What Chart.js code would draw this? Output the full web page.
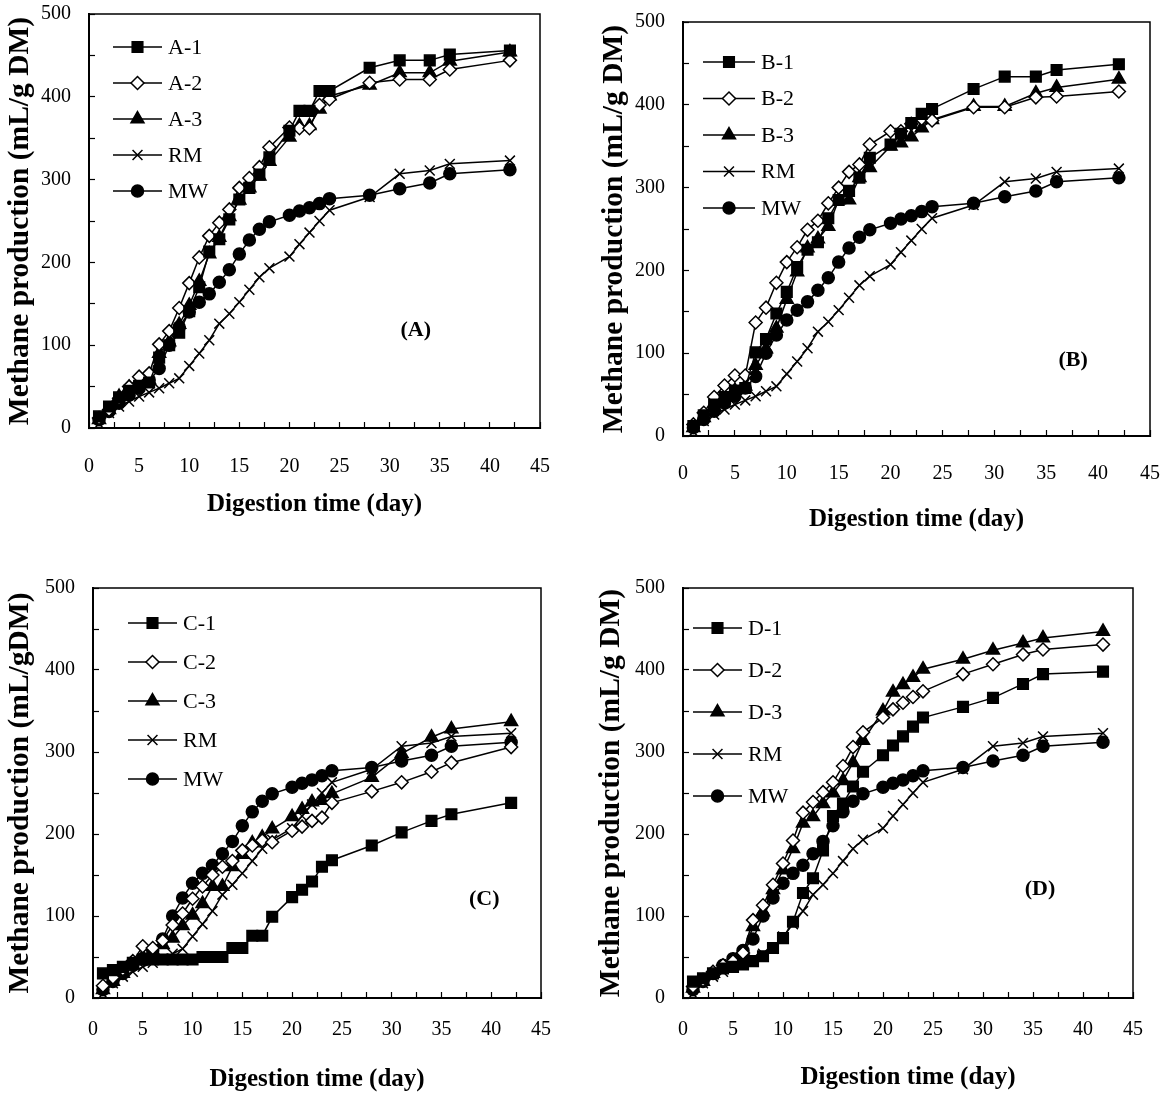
<!DOCTYPE html>
<html>
<head>
<meta charset="utf-8">
<script src="https://cdn.jsdelivr.net/npm/chart.js@4.4.1/dist/chart.umd.min.js"></script>
<style>
  html, body { margin: 0; padding: 0; background: #fff; }
  #wrap { position: relative; width: 1172px; height: 1105px; }
  .panel { position: absolute; }
</style>
</head>
<body>
<div id="wrap">
  <div class="panel" style="left:0;top:0"><canvas id="chartA" width="586" height="545"></canvas></div>
  <div class="panel" style="left:586px;top:0"><canvas id="chartB" width="586" height="545"></canvas></div>
  <div class="panel" style="left:0;top:552px"><canvas id="chartC" width="586" height="553"></canvas></div>
  <div class="panel" style="left:586px;top:552px"><canvas id="chartD" width="586" height="553"></canvas></div>
</div>
<script>
// digestion days (same sampling in every panel)
const days = [1, 2, 3, 4, 5, 6, 7, 8, 9, 10, 11, 12, 13, 14, 15, 16, 17, 18, 20, 21, 22, 23, 24, 28, 31, 34, 36, 42];

// controls, shared by all four panels
const RM = [5, 18, 26, 32, 38, 43, 48, 54, 60, 75, 90, 106, 126, 138, 152, 167, 182, 193, 207, 222, 236, 250, 263, 279, 307, 311, 319, 323];
const MW = [10, 20, 30, 40, 48, 58, 72, 100, 122, 140, 152, 162, 176, 191, 210, 227, 240, 249, 257, 262, 266, 271, 277, 281, 289, 296, 307, 312];

const A1 = [14, 26, 37, 45, 51, 55, 85, 100, 115, 141, 170, 213, 228, 252, 276, 290, 306, 327, 359, 383, 383, 407, 407, 435, 444, 444, 451, 456];
const A2 = [12, 22, 36, 50, 62, 66, 101, 117, 145, 175, 206, 232, 248, 264, 290, 302, 315, 339, 363, 362, 362, 390, 397, 417, 421, 421, 433, 444];
const A3 = [10, 22, 38, 49, 54, 58, 90, 104, 125, 148, 177, 210, 230, 255, 275, 290, 304, 322, 351, 365, 365, 385, 401, 414, 429, 429, 443, 454];

const B1 = [12, 25, 38, 47, 55, 58, 101, 117, 148, 174, 204, 225, 234, 263, 285, 296, 312, 336, 352, 365, 378, 389, 395, 419, 434, 434, 442, 449];
const B2 = [14, 28, 47, 61, 73, 73, 137, 155, 185, 210, 228, 249, 260, 281, 300, 319, 328, 352, 368, 368, 377, 383, 381, 397, 397, 409, 410, 416];
const B3 = [10, 22, 36, 47, 55, 60, 85, 105, 130, 165, 198, 227, 238, 253, 285, 285, 312, 324, 350, 354, 361, 372, 382, 398, 398, 414, 421, 431];

const C1 = [30, 34, 38, 43, 47, 47, 47, 47, 47, 47, 50, 50, 50, 61, 61, 76, 76, 99, 123, 132, 142, 160, 168, 186, 202, 216, 224, 238];
const C2 = [15, 25, 35, 45, 63, 61, 70, 89, 103, 121, 136, 150, 160, 167, 180, 186, 192, 190, 204, 209, 216, 220, 238, 252, 263, 276, 287, 306];
const C3 = [10, 20, 30, 40, 50, 58, 65, 73, 88, 101, 115, 136, 136, 160, 175, 189, 196, 206, 221, 230, 239, 241, 249, 269, 298, 318, 328, 337];

const D1 = [20, 24, 30, 36, 38, 41, 45, 51, 61, 73, 93, 128, 146, 180, 222, 237, 258, 276, 296, 308, 319, 331, 342, 355, 366, 383, 395, 398];
const D2 = [14, 22, 32, 40, 45, 55, 95, 113, 138, 164, 192, 226, 239, 251, 263, 283, 306, 324, 342, 352, 360, 367, 374, 395, 407, 419, 425, 431];
const D3 = [12, 20, 30, 37, 45, 52, 87, 105, 132, 156, 182, 213, 221, 237, 250, 265, 287, 314, 350, 373, 382, 391, 401, 413, 424, 433, 439, 447];

const FONT = '"Liberation Serif", "Times New Roman", serif';
Chart.defaults.font.family = FONT;
Chart.defaults.color = '#000';

const markers = {
  square:   { pointStyle: 'rect',     pointRadius: 7.5, fill: '#000' },
  diamond:  { pointStyle: 'rectRot',  pointRadius: 6.5, fill: '#fff' },
  triangle: { pointStyle: 'triangle', pointRadius: 7.5, fill: '#000' },
  cross:    { pointStyle: 'crossRot', pointRadius: 7,   fill: '#000' },
  circle:   { pointStyle: 'circle',   pointRadius: 6,   fill: '#000' }
};

// legend drawn inside the plot, line with the marker in the middle
const insideLegend = {
  id: 'insideLegend',
  afterDraw(chart, args, opts) {
    const ctx = chart.ctx;
    ctx.save();
    chart.data.datasets.forEach((ds, i) => {
      const y = opts.y + i * opts.gap;
      ctx.strokeStyle = '#000';
      ctx.lineWidth = 1.5;
      ctx.beginPath();
      ctx.moveTo(opts.x, y);
      ctx.lineTo(opts.x + opts.len, y);
      ctx.stroke();
      ctx.fillStyle = ds.pointBackgroundColor;
      ctx.lineWidth = ds.pointBorderWidth;
      Chart.helpers.drawPoint(ctx, {
        pointStyle: ds.pointStyle, radius: ds.pointRadius, borderWidth: ds.pointBorderWidth, rotation: 0
      }, opts.x + opts.len / 2, y);
      ctx.fillStyle = '#000';
      ctx.font = '22px ' + FONT;
      ctx.textBaseline = 'middle';
      ctx.textAlign = 'left';
      ctx.fillText(ds.label, opts.x + opts.len + 6, y + 1);
    });
    ctx.restore();
  }
};

// box round the plot and the panel tag
const panelExtras = {
  id: 'panelExtras',
  afterDraw(chart, args, opts) {
    const { ctx, chartArea: a, scales } = chart;
    ctx.save();
    ctx.strokeStyle = '#000';
    ctx.lineWidth = 1.5;
    ctx.strokeRect(a.left, a.top, a.right - a.left, a.bottom - a.top);
    ctx.fillStyle = '#000';
    ctx.font = 'bold 22px ' + FONT;
    ctx.textAlign = 'center';
    ctx.textBaseline = 'middle';
    ctx.fillText(opts.tag, scales.x.getPixelForValue(opts.at[0]), scales.y.getPixelForValue(opts.at[1]));
    ctx.restore();
  }
};

function makeChart(id, series, yTitle, tag, tagAt, g, leg) {
  const datasets = series.map(s => {
    const m = markers[s.marker];
    return {
      label: s.label,
      data: days.map((d, i) => ({ x: d, y: s.values[i] })),
      borderColor: '#000',
      borderWidth: 1.5,
      pointStyle: m.pointStyle,
      pointRadius: m.pointRadius,
      pointBackgroundColor: m.fill,
      pointBorderColor: '#000',
      pointBorderWidth: 1.5,
      tension: 0
    };
  });
  const xHeight = g.xTitleY - g.b + 15;
  return new Chart(document.getElementById(id), {
    type: 'line',
    data: { datasets },
    plugins: [insideLegend, panelExtras],
    options: {
      responsive: false,
      animation: false,
      layout: { padding: { left: 0, top: g.t, right: g.w - g.r, bottom: g.h - g.b - xHeight } },
      plugins: {
        legend: { display: false },
        tooltip: { enabled: false },
        insideLegend: leg,
        panelExtras: { tag, at: tagAt }
      },
      scales: {
        x: {
          type: 'linear', min: 0, max: 45,
          afterFit: s => { s.height = xHeight; s.paddingLeft = 0; s.paddingRight = 0; },
          ticks: {
            stepSize: 2.5, autoSkip: false, maxRotation: 0, padding: g.xPad,
            font: { size: 20 },
            callback: v => (v % 5 === 0 ? v : '')
          },
          grid: { drawOnChartArea: false, tickLength: -6, color: '#000', tickWidth: 1.2 },
          border: { color: '#000', width: 2 },
          title: { display: true, text: 'Digestion time (day)', font: { size: 25, weight: 'bold' }, padding: { top: 0, bottom: 0 } }
        },
        y: {
          min: 0, max: 500,
          afterFit: s => { s.width = g.l; s.paddingTop = 0; s.paddingBottom = 0; },
          ticks: {
            stepSize: 50, padding: 24,
            font: { size: 20 },
            callback: v => (v % 100 === 0 ? v : '')
          },
          grid: { drawOnChartArea: false, tickLength: -6, color: '#000', tickWidth: 1.2 },
          border: { color: '#000', width: 2 },
          title: { display: true, text: yTitle, font: { size: 29.5, weight: 'bold' }, padding: { top: g.ytPad, bottom: 0 } }
        }
      }
    }
  });
}

makeChart('chartA', [
  { label: 'A-1', values: A1, marker: 'square' },
  { label: 'A-2', values: A2, marker: 'diamond' },
  { label: 'A-3', values: A3, marker: 'triangle' },
  { label: 'RM', values: RM, marker: 'cross' },
  { label: 'MW', values: MW, marker: 'circle' }
], 'Methane production (mL/g DM)', '(A)', [32.6, 118],
  { w: 586, h: 545, l: 89, r: 540, t: 14, b: 428, xPad: 33, xTitleY: 505, ytPad: 3 },
  { x: 113, y: 47, gap: 36, len: 49 });

makeChart('chartB', [
  { label: 'B-1', values: B1, marker: 'square' },
  { label: 'B-2', values: B2, marker: 'diamond' },
  { label: 'B-3', values: B3, marker: 'triangle' },
  { label: 'RM', values: RM, marker: 'cross' },
  { label: 'MW', values: MW, marker: 'circle' }
], 'Methane production (mL/g DM)', '(B)', [37.6, 92],
  { w: 586, h: 545, l: 97, r: 564, t: 22, b: 436, xPad: 32, xTitleY: 520, ytPad: 11 },
  { x: 117, y: 62, gap: 36.5, len: 52 });

makeChart('chartC', [
  { label: 'C-1', values: C1, marker: 'square' },
  { label: 'C-2', values: C2, marker: 'diamond' },
  { label: 'C-3', values: C3, marker: 'triangle' },
  { label: 'RM', values: RM, marker: 'cross' },
  { label: 'MW', values: MW, marker: 'circle' }
], 'Methane production (mL/gDM)', '(C)', [39.3, 120],
  { w: 586, h: 553, l: 93, r: 541, t: 36, b: 446, xPad: 26, xTitleY: 528, ytPad: 3 },
  { x: 128, y: 71, gap: 39, len: 49 });

makeChart('chartD', [
  { label: 'D-1', values: D1, marker: 'square' },
  { label: 'D-2', values: D2, marker: 'diamond' },
  { label: 'D-3', values: D3, marker: 'triangle' },
  { label: 'RM', values: RM, marker: 'cross' },
  { label: 'MW', values: MW, marker: 'circle' }
], 'Methane production (mL/g DM)', '(D)', [35.7, 132],
  { w: 586, h: 553, l: 97, r: 547, t: 36, b: 446, xPad: 26, xTitleY: 526, ytPad: 8 },
  { x: 107, y: 76, gap: 42, len: 49 });
</script>
</body>
</html>
